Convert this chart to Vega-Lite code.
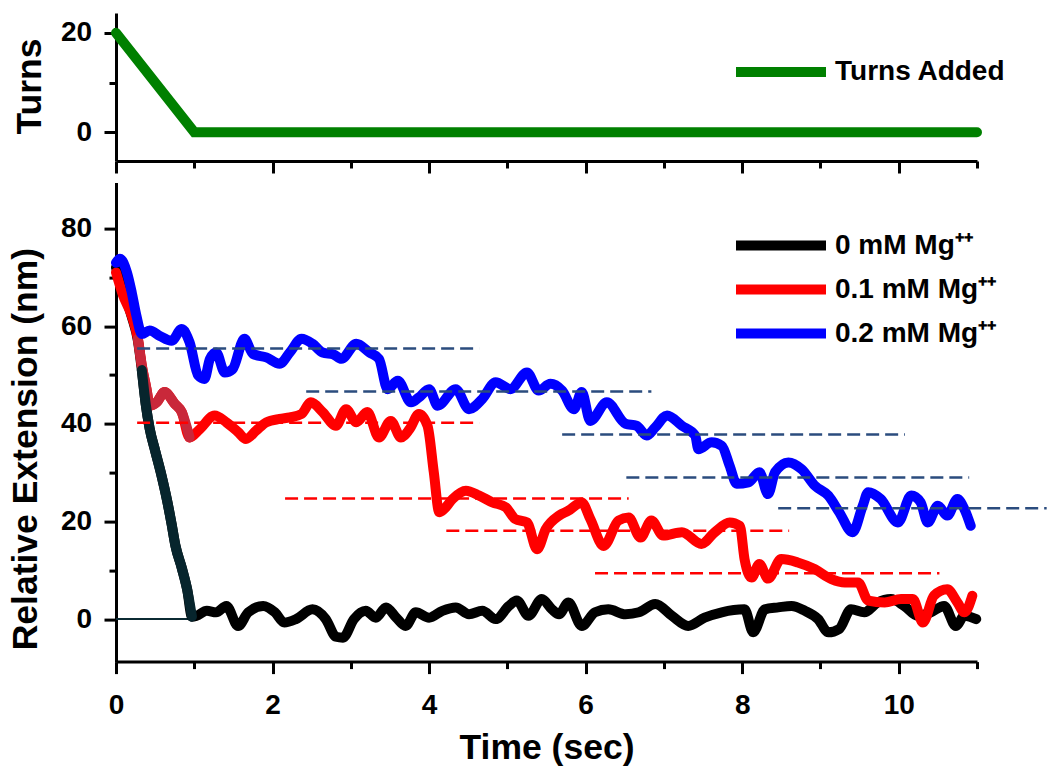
{
  "$schema": "https://vega.github.io/schema/vega-lite/v6.json",
  "background": "white",
  "padding": {"left": 8, "top": 12, "right": 0, "bottom": 0},
  "datasets": {
    "turns": [
      {"t": 0, "turns": 20, "series": "Turns Added"},
      {"t": 1, "turns": 0, "series": "Turns Added"},
      {"t": 11, "turns": 0, "series": "Turns Added"}
    ],
    "ext": [
      {"series": "0 mM Mg⁺⁺", "t": 0, "y": 72},
      {"series": "0 mM Mg⁺⁺", "t": 0.1, "y": 67},
      {"series": "0 mM Mg⁺⁺", "t": 0.2, "y": 62},
      {"series": "0 mM Mg⁺⁺", "t": 0.28, "y": 57},
      {"series": "0 mM Mg⁺⁺", "t": 0.33, "y": 51},
      {"series": "0 mM Mg⁺⁺", "t": 0.38, "y": 44},
      {"series": "0 mM Mg⁺⁺", "t": 0.43, "y": 39},
      {"series": "0 mM Mg⁺⁺", "t": 0.5, "y": 34.5},
      {"series": "0 mM Mg⁺⁺", "t": 0.58, "y": 29.5},
      {"series": "0 mM Mg⁺⁺", "t": 0.65, "y": 24.5},
      {"series": "0 mM Mg⁺⁺", "t": 0.71, "y": 19.5},
      {"series": "0 mM Mg⁺⁺", "t": 0.76, "y": 15},
      {"series": "0 mM Mg⁺⁺", "t": 0.84, "y": 10.5},
      {"series": "0 mM Mg⁺⁺", "t": 0.91, "y": 6},
      {"series": "0 mM Mg⁺⁺", "t": 0.97, "y": 0.5},
      {"series": "0 mM Mg⁺⁺", "t": 1.03, "y": 0.7},
      {"series": "0 mM Mg⁺⁺", "t": 1.16, "y": 1.7},
      {"series": "0 mM Mg⁺⁺", "t": 1.28, "y": 1.4},
      {"series": "0 mM Mg⁺⁺", "t": 1.41, "y": 2.7},
      {"series": "0 mM Mg⁺⁺", "t": 1.56, "y": -1.4},
      {"series": "0 mM Mg⁺⁺", "t": 1.69, "y": 1.4},
      {"series": "0 mM Mg⁺⁺", "t": 1.88, "y": 2.7},
      {"series": "0 mM Mg⁺⁺", "t": 2.03, "y": 1.4},
      {"series": "0 mM Mg⁺⁺", "t": 2.15, "y": -0.7},
      {"series": "0 mM Mg⁺⁺", "t": 2.3, "y": 0},
      {"series": "0 mM Mg⁺⁺", "t": 2.51, "y": 2.0},
      {"series": "0 mM Mg⁺⁺", "t": 2.68, "y": 0},
      {"series": "0 mM Mg⁺⁺", "t": 2.81, "y": -3.6},
      {"series": "0 mM Mg⁺⁺", "t": 2.9, "y": -3.8},
      {"series": "0 mM Mg⁺⁺", "t": 3.04, "y": 0},
      {"series": "0 mM Mg⁺⁺", "t": 3.19, "y": 1.7},
      {"series": "0 mM Mg⁺⁺", "t": 3.32, "y": 0.3},
      {"series": "0 mM Mg⁺⁺", "t": 3.45, "y": 2.4},
      {"series": "0 mM Mg⁺⁺", "t": 3.58, "y": 0.3},
      {"series": "0 mM Mg⁺⁺", "t": 3.7, "y": -1.4},
      {"series": "0 mM Mg⁺⁺", "t": 3.83, "y": 1.4},
      {"series": "0 mM Mg⁺⁺", "t": 4.0, "y": 0.3},
      {"series": "0 mM Mg⁺⁺", "t": 4.17, "y": 1.7},
      {"series": "0 mM Mg⁺⁺", "t": 4.34, "y": 2.4},
      {"series": "0 mM Mg⁺⁺", "t": 4.51, "y": 1.0},
      {"series": "0 mM Mg⁺⁺", "t": 4.68, "y": 1.7},
      {"series": "0 mM Mg⁺⁺", "t": 4.85, "y": 0},
      {"series": "0 mM Mg⁺⁺", "t": 5.02, "y": 2.7},
      {"series": "0 mM Mg⁺⁺", "t": 5.12, "y": 3.8},
      {"series": "0 mM Mg⁺⁺", "t": 5.27, "y": 0.7},
      {"series": "0 mM Mg⁺⁺", "t": 5.44, "y": 4.1},
      {"series": "0 mM Mg⁺⁺", "t": 5.57, "y": 2.0},
      {"series": "0 mM Mg⁺⁺", "t": 5.66, "y": 1.0},
      {"series": "0 mM Mg⁺⁺", "t": 5.78, "y": 3.4},
      {"series": "0 mM Mg⁺⁺", "t": 5.95, "y": -1.4},
      {"series": "0 mM Mg⁺⁺", "t": 6.12, "y": 1.4},
      {"series": "0 mM Mg⁺⁺", "t": 6.29, "y": 2.0},
      {"series": "0 mM Mg⁺⁺", "t": 6.51, "y": 1.0},
      {"series": "0 mM Mg⁺⁺", "t": 6.68, "y": 1.4},
      {"series": "0 mM Mg⁺⁺", "t": 6.89, "y": 3.1},
      {"series": "0 mM Mg⁺⁺", "t": 7.1, "y": 0.7},
      {"series": "0 mM Mg⁺⁺", "t": 7.31, "y": -1.4},
      {"series": "0 mM Mg⁺⁺", "t": 7.52, "y": 0.3},
      {"series": "0 mM Mg⁺⁺", "t": 7.74, "y": 1.4},
      {"series": "0 mM Mg⁺⁺", "t": 8.03, "y": 2.0},
      {"series": "0 mM Mg⁺⁺", "t": 8.14, "y": -2.7},
      {"series": "0 mM Mg⁺⁺", "t": 8.29, "y": 2.0},
      {"series": "0 mM Mg⁺⁺", "t": 8.46, "y": 2.4},
      {"series": "0 mM Mg⁺⁺", "t": 8.63, "y": 2.7},
      {"series": "0 mM Mg⁺⁺", "t": 8.8, "y": 1.7},
      {"series": "0 mM Mg⁺⁺", "t": 8.97, "y": 0},
      {"series": "0 mM Mg⁺⁺", "t": 9.1, "y": -2.7},
      {"series": "0 mM Mg⁺⁺", "t": 9.24, "y": -2.0},
      {"series": "0 mM Mg⁺⁺", "t": 9.39, "y": 2.0},
      {"series": "0 mM Mg⁺⁺", "t": 9.56, "y": 1.4},
      {"series": "0 mM Mg⁺⁺", "t": 9.73, "y": 3.4},
      {"series": "0 mM Mg⁺⁺", "t": 9.9, "y": 4.1},
      {"series": "0 mM Mg⁺⁺", "t": 10.07, "y": 2.7},
      {"series": "0 mM Mg⁺⁺", "t": 10.24, "y": 0.7},
      {"series": "0 mM Mg⁺⁺", "t": 10.41, "y": 1.4},
      {"series": "0 mM Mg⁺⁺", "t": 10.58, "y": 2.7},
      {"series": "0 mM Mg⁺⁺", "t": 10.73, "y": -1.4},
      {"series": "0 mM Mg⁺⁺", "t": 10.84, "y": 0.7},
      {"series": "0 mM Mg⁺⁺", "t": 10.99, "y": 0},
      {"series": "0.1 mM Mg⁺⁺", "t": 0, "y": 71},
      {"series": "0.1 mM Mg⁺⁺", "t": 0.09, "y": 66.3},
      {"series": "0.1 mM Mg⁺⁺", "t": 0.2, "y": 62.2},
      {"series": "0.1 mM Mg⁺⁺", "t": 0.28, "y": 57.4},
      {"series": "0.1 mM Mg⁺⁺", "t": 0.33, "y": 51.9},
      {"series": "0.1 mM Mg⁺⁺", "t": 0.39, "y": 47.1},
      {"series": "0.1 mM Mg⁺⁺", "t": 0.43, "y": 43.7},
      {"series": "0.1 mM Mg⁺⁺", "t": 0.52, "y": 44.4},
      {"series": "0.1 mM Mg⁺⁺", "t": 0.62, "y": 46.5},
      {"series": "0.1 mM Mg⁺⁺", "t": 0.75, "y": 44.1},
      {"series": "0.1 mM Mg⁺⁺", "t": 0.84, "y": 42.4},
      {"series": "0.1 mM Mg⁺⁺", "t": 0.94, "y": 37.2},
      {"series": "0.1 mM Mg⁺⁺", "t": 1.07, "y": 38.9},
      {"series": "0.1 mM Mg⁺⁺", "t": 1.26, "y": 41.7},
      {"series": "0.1 mM Mg⁺⁺", "t": 1.41, "y": 40.3},
      {"series": "0.1 mM Mg⁺⁺", "t": 1.56, "y": 38.3},
      {"series": "0.1 mM Mg⁺⁺", "t": 1.66, "y": 36.9},
      {"series": "0.1 mM Mg⁺⁺", "t": 1.79, "y": 38.6},
      {"series": "0.1 mM Mg⁺⁺", "t": 1.92, "y": 40.3},
      {"series": "0.1 mM Mg⁺⁺", "t": 2.09, "y": 41.0},
      {"series": "0.1 mM Mg⁺⁺", "t": 2.22, "y": 41.3},
      {"series": "0.1 mM Mg⁺⁺", "t": 2.37, "y": 42.0},
      {"series": "0.1 mM Mg⁺⁺", "t": 2.49, "y": 44.4},
      {"series": "0.1 mM Mg⁺⁺", "t": 2.64, "y": 42.4},
      {"series": "0.1 mM Mg⁺⁺", "t": 2.81, "y": 39.6},
      {"series": "0.1 mM Mg⁺⁺", "t": 2.94, "y": 43.0},
      {"series": "0.1 mM Mg⁺⁺", "t": 3.07, "y": 40.3},
      {"series": "0.1 mM Mg⁺⁺", "t": 3.21, "y": 42.4},
      {"series": "0.1 mM Mg⁺⁺", "t": 3.36, "y": 37.2},
      {"series": "0.1 mM Mg⁺⁺", "t": 3.51, "y": 40.6},
      {"series": "0.1 mM Mg⁺⁺", "t": 3.64, "y": 37.2},
      {"series": "0.1 mM Mg⁺⁺", "t": 3.75, "y": 38.9},
      {"series": "0.1 mM Mg⁺⁺", "t": 3.87, "y": 42.0},
      {"series": "0.1 mM Mg⁺⁺", "t": 3.98, "y": 39.6},
      {"series": "0.1 mM Mg⁺⁺", "t": 4.06, "y": 30.1},
      {"series": "0.1 mM Mg⁺⁺", "t": 4.13, "y": 21.9},
      {"series": "0.1 mM Mg⁺⁺", "t": 4.19, "y": 22.5},
      {"series": "0.1 mM Mg⁺⁺", "t": 4.3, "y": 24.6},
      {"series": "0.1 mM Mg⁺⁺", "t": 4.47, "y": 26.3},
      {"series": "0.1 mM Mg⁺⁺", "t": 4.64, "y": 25.3},
      {"series": "0.1 mM Mg⁺⁺", "t": 4.81, "y": 23.9},
      {"series": "0.1 mM Mg⁺⁺", "t": 4.98, "y": 22.9},
      {"series": "0.1 mM Mg⁺⁺", "t": 5.1, "y": 20.5},
      {"series": "0.1 mM Mg⁺⁺", "t": 5.25, "y": 19.8},
      {"series": "0.1 mM Mg⁺⁺", "t": 5.38, "y": 14.3},
      {"series": "0.1 mM Mg⁺⁺", "t": 5.49, "y": 18.4},
      {"series": "0.1 mM Mg⁺⁺", "t": 5.66, "y": 21.2},
      {"series": "0.1 mM Mg⁺⁺", "t": 5.78, "y": 22.2},
      {"series": "0.1 mM Mg⁺⁺", "t": 5.95, "y": 23.9},
      {"series": "0.1 mM Mg⁺⁺", "t": 6.06, "y": 20.5},
      {"series": "0.1 mM Mg⁺⁺", "t": 6.23, "y": 15.0},
      {"series": "0.1 mM Mg⁺⁺", "t": 6.42, "y": 20.2},
      {"series": "0.1 mM Mg⁺⁺", "t": 6.55, "y": 20.8},
      {"series": "0.1 mM Mg⁺⁺", "t": 6.7, "y": 16.7},
      {"series": "0.1 mM Mg⁺⁺", "t": 6.84, "y": 20.2},
      {"series": "0.1 mM Mg⁺⁺", "t": 6.99, "y": 17.1},
      {"series": "0.1 mM Mg⁺⁺", "t": 7.23, "y": 17.8},
      {"series": "0.1 mM Mg⁺⁺", "t": 7.48, "y": 15.4},
      {"series": "0.1 mM Mg⁺⁺", "t": 7.65, "y": 17.8},
      {"series": "0.1 mM Mg⁺⁺", "t": 7.84, "y": 19.8},
      {"series": "0.1 mM Mg⁺⁺", "t": 7.97, "y": 19.1},
      {"series": "0.1 mM Mg⁺⁺", "t": 8.03, "y": 12.3},
      {"series": "0.1 mM Mg⁺⁺", "t": 8.12, "y": 8.5},
      {"series": "0.1 mM Mg⁺⁺", "t": 8.22, "y": 11.3},
      {"series": "0.1 mM Mg⁺⁺", "t": 8.33, "y": 8.3},
      {"series": "0.1 mM Mg⁺⁺", "t": 8.5, "y": 12.3},
      {"series": "0.1 mM Mg⁺⁺", "t": 8.71, "y": 11.6},
      {"series": "0.1 mM Mg⁺⁺", "t": 8.93, "y": 10.2},
      {"series": "0.1 mM Mg⁺⁺", "t": 9.14, "y": 8.2},
      {"series": "0.1 mM Mg⁺⁺", "t": 9.31, "y": 7.5},
      {"series": "0.1 mM Mg⁺⁺", "t": 9.48, "y": 7.5},
      {"series": "0.1 mM Mg⁺⁺", "t": 9.61, "y": 3.8},
      {"series": "0.1 mM Mg⁺⁺", "t": 9.82, "y": 3.4},
      {"series": "0.1 mM Mg⁺⁺", "t": 10.03, "y": 4.1},
      {"series": "0.1 mM Mg⁺⁺", "t": 10.18, "y": 4.1},
      {"series": "0.1 mM Mg⁺⁺", "t": 10.31, "y": -0.7},
      {"series": "0.1 mM Mg⁺⁺", "t": 10.45, "y": 4.8},
      {"series": "0.1 mM Mg⁺⁺", "t": 10.62, "y": 6.1},
      {"series": "0.1 mM Mg⁺⁺", "t": 10.75, "y": 3.4},
      {"series": "0.1 mM Mg⁺⁺", "t": 10.84, "y": 1.4},
      {"series": "0.1 mM Mg⁺⁺", "t": 10.94, "y": 4.8},
      {"series": "0.2 mM Mg⁺⁺", "t": 0, "y": 73},
      {"series": "0.2 mM Mg⁺⁺", "t": 0.05, "y": 73.8},
      {"series": "0.2 mM Mg⁺⁺", "t": 0.14, "y": 71},
      {"series": "0.2 mM Mg⁺⁺", "t": 0.2, "y": 67},
      {"series": "0.2 mM Mg⁺⁺", "t": 0.26, "y": 62.2},
      {"series": "0.2 mM Mg⁺⁺", "t": 0.33, "y": 58.4},
      {"series": "0.2 mM Mg⁺⁺", "t": 0.43, "y": 59.1},
      {"series": "0.2 mM Mg⁺⁺", "t": 0.56, "y": 58},
      {"series": "0.2 mM Mg⁺⁺", "t": 0.71, "y": 57},
      {"series": "0.2 mM Mg⁺⁺", "t": 0.84, "y": 59.4},
      {"series": "0.2 mM Mg⁺⁺", "t": 0.94, "y": 56.7},
      {"series": "0.2 mM Mg⁺⁺", "t": 1.05, "y": 49.9},
      {"series": "0.2 mM Mg⁺⁺", "t": 1.13, "y": 49.2},
      {"series": "0.2 mM Mg⁺⁺", "t": 1.2, "y": 53.3},
      {"series": "0.2 mM Mg⁺⁺", "t": 1.28, "y": 54.6},
      {"series": "0.2 mM Mg⁺⁺", "t": 1.39, "y": 50.5},
      {"series": "0.2 mM Mg⁺⁺", "t": 1.49, "y": 51.2},
      {"series": "0.2 mM Mg⁺⁺", "t": 1.64, "y": 57.4},
      {"series": "0.2 mM Mg⁺⁺", "t": 1.75, "y": 54.3},
      {"series": "0.2 mM Mg⁺⁺", "t": 1.92, "y": 53.6},
      {"series": "0.2 mM Mg⁺⁺", "t": 2.09, "y": 52.3},
      {"series": "0.2 mM Mg⁺⁺", "t": 2.22, "y": 54.6},
      {"series": "0.2 mM Mg⁺⁺", "t": 2.37, "y": 57.4},
      {"series": "0.2 mM Mg⁺⁺", "t": 2.51, "y": 56.4},
      {"series": "0.2 mM Mg⁺⁺", "t": 2.64, "y": 54.6},
      {"series": "0.2 mM Mg⁺⁺", "t": 2.78, "y": 54.2},
      {"series": "0.2 mM Mg⁺⁺", "t": 2.88, "y": 53.3},
      {"series": "0.2 mM Mg⁺⁺", "t": 3.07, "y": 56.4},
      {"series": "0.2 mM Mg⁺⁺", "t": 3.24, "y": 54.6},
      {"series": "0.2 mM Mg⁺⁺", "t": 3.36, "y": 53.3},
      {"series": "0.2 mM Mg⁺⁺", "t": 3.47, "y": 47.1},
      {"series": "0.2 mM Mg⁺⁺", "t": 3.6, "y": 48.8},
      {"series": "0.2 mM Mg⁺⁺", "t": 3.77, "y": 44.4},
      {"series": "0.2 mM Mg⁺⁺", "t": 3.87, "y": 45.4},
      {"series": "0.2 mM Mg⁺⁺", "t": 4.0, "y": 47.1},
      {"series": "0.2 mM Mg⁺⁺", "t": 4.11, "y": 43.7},
      {"series": "0.2 mM Mg⁺⁺", "t": 4.34, "y": 47.1},
      {"series": "0.2 mM Mg⁺⁺", "t": 4.51, "y": 43.0},
      {"series": "0.2 mM Mg⁺⁺", "t": 4.68, "y": 45.1},
      {"series": "0.2 mM Mg⁺⁺", "t": 4.85, "y": 48.5},
      {"series": "0.2 mM Mg⁺⁺", "t": 5.04, "y": 47.1},
      {"series": "0.2 mM Mg⁺⁺", "t": 5.25, "y": 50.5},
      {"series": "0.2 mM Mg⁺⁺", "t": 5.4, "y": 46.8},
      {"series": "0.2 mM Mg⁺⁺", "t": 5.55, "y": 48.2},
      {"series": "0.2 mM Mg⁺⁺", "t": 5.7, "y": 46.8},
      {"series": "0.2 mM Mg⁺⁺", "t": 5.85, "y": 43.0},
      {"series": "0.2 mM Mg⁺⁺", "t": 5.95, "y": 46.5},
      {"series": "0.2 mM Mg⁺⁺", "t": 6.06, "y": 40.6},
      {"series": "0.2 mM Mg⁺⁺", "t": 6.27, "y": 44.4},
      {"series": "0.2 mM Mg⁺⁺", "t": 6.51, "y": 40},
      {"series": "0.2 mM Mg⁺⁺", "t": 6.65, "y": 39.6},
      {"series": "0.2 mM Mg⁺⁺", "t": 6.78, "y": 37.6},
      {"series": "0.2 mM Mg⁺⁺", "t": 6.89, "y": 39.3},
      {"series": "0.2 mM Mg⁺⁺", "t": 7.04, "y": 41.7},
      {"series": "0.2 mM Mg⁺⁺", "t": 7.23, "y": 39.6},
      {"series": "0.2 mM Mg⁺⁺", "t": 7.4, "y": 37.6},
      {"series": "0.2 mM Mg⁺⁺", "t": 7.44, "y": 34.8},
      {"series": "0.2 mM Mg⁺⁺", "t": 7.61, "y": 36.2},
      {"series": "0.2 mM Mg⁺⁺", "t": 7.74, "y": 35.5},
      {"series": "0.2 mM Mg⁺⁺", "t": 7.84, "y": 31.4},
      {"series": "0.2 mM Mg⁺⁺", "t": 7.93, "y": 27.7},
      {"series": "0.2 mM Mg⁺⁺", "t": 8.08, "y": 28.0},
      {"series": "0.2 mM Mg⁺⁺", "t": 8.22, "y": 30.1},
      {"series": "0.2 mM Mg⁺⁺", "t": 8.33, "y": 25.6},
      {"series": "0.2 mM Mg⁺⁺", "t": 8.42, "y": 30.1},
      {"series": "0.2 mM Mg⁺⁺", "t": 8.59, "y": 32.1},
      {"series": "0.2 mM Mg⁺⁺", "t": 8.76, "y": 30.7},
      {"series": "0.2 mM Mg⁺⁺", "t": 8.93, "y": 27.3},
      {"series": "0.2 mM Mg⁺⁺", "t": 9.1, "y": 25.3},
      {"series": "0.2 mM Mg⁺⁺", "t": 9.24, "y": 21.9},
      {"series": "0.2 mM Mg⁺⁺", "t": 9.41, "y": 17.8},
      {"series": "0.2 mM Mg⁺⁺", "t": 9.54, "y": 23.2},
      {"series": "0.2 mM Mg⁺⁺", "t": 9.61, "y": 26.0},
      {"series": "0.2 mM Mg⁺⁺", "t": 9.77, "y": 24.6},
      {"series": "0.2 mM Mg⁺⁺", "t": 9.99, "y": 19.8},
      {"series": "0.2 mM Mg⁺⁺", "t": 10.16, "y": 25.3},
      {"series": "0.2 mM Mg⁺⁺", "t": 10.28, "y": 23.9},
      {"series": "0.2 mM Mg⁺⁺", "t": 10.37, "y": 19.8},
      {"series": "0.2 mM Mg⁺⁺", "t": 10.5, "y": 23.2},
      {"series": "0.2 mM Mg⁺⁺", "t": 10.62, "y": 21.2},
      {"series": "0.2 mM Mg⁺⁺", "t": 10.75, "y": 24.6},
      {"series": "0.2 mM Mg⁺⁺", "t": 10.84, "y": 22.5},
      {"series": "0.2 mM Mg⁺⁺", "t": 10.92, "y": 19.1}
    ],
    "levels": [
      {"grp": "0.2", "y": 55.4, "t": 0.27, "t2": 4.64},
      {"grp": "0.2", "y": 46.6, "t": 2.43, "t2": 6.84},
      {"grp": "0.2", "y": 37.8, "t": 5.7, "t2": 10.08},
      {"grp": "0.2", "y": 29.0, "t": 6.52, "t2": 10.9},
      {"grp": "0.2", "y": 22.7, "t": 8.46, "t2": 11.89},
      {"grp": "0.1", "y": 40.2, "t": 0.27, "t2": 4.64},
      {"grp": "0.1", "y": 24.7, "t": 2.16, "t2": 6.55},
      {"grp": "0.1", "y": 18.1, "t": 4.22, "t2": 8.6},
      {"grp": "0.1", "y": 9.4, "t": 6.12, "t2": 10.52}
    ],
    "baseline": [
      {"t": 0, "t2": 1, "y": 0}
    ]
  },
  "spacing": 21.6,
  "bounds": "flush",
  "resolve": {"scale": {"color": "independent"}},
  "vconcat": [
    {
      "width": 861,
      "height": 148,
      "data": {"name": "turns"},
      "mark": {"type": "line", "strokeWidth": 10, "clip": false, "strokeCap": "round"},
      "encoding": {
        "x": {
          "field": "t", "type": "quantitative",
          "scale": {"domain": [0, 11], "nice": false, "zero": false},
          "axis": {
            "title": null, "labels": false,
            "values": [0, 1, 2, 3, 4, 5, 6, 7, 8, 9, 10, 11],
            "tickSize": {"condition": {"test": "datum.value % 2 === 0", "value": 12}, "value": 7}
          }
        },
        "y": {
          "field": "turns", "type": "quantitative",
          "scale": {"domain": [-5.8, 24], "nice": false, "zero": false},
          "axis": {
            "title": "Turns",
            "values": [0, 10, 20],
            "labelExpr": "datum.value % 20 === 0 ? datum.label : ''",
            "tickSize": {"condition": {"test": "datum.value % 20 === 0", "value": 12}, "value": 7},
            "labelPadding": 12.4,
            "titleX": -75.7, "titleY": 73, "titleBaseline": "alphabetic"
          }
        },
        "color": {
          "field": "series", "type": "nominal",
          "scale": {"domain": ["Turns Added"], "range": ["#008000"]},
          "legend": {
            "title": null, "orient": "none", "legendX": 606, "legendY": 45,
            "symbolType": "M0,0H18", "symbolSize": 100, "symbolStrokeWidth": 10,
            "labelOffset": 85, "labelFontSize": 28, "labelFontWeight": "bold", "labelColor": "black", "labelLimit": 400
          }
        }
      }
    },
    {
      "width": 861,
      "height": 479,
      "encoding": {
        "x": {
          "field": "t", "type": "quantitative",
          "scale": {"domain": [0, 11], "nice": false, "zero": false},
          "axis": {
            "title": "Time (sec)",
            "values": [0, 1, 2, 3, 4, 5, 6, 7, 8, 9, 10, 11],
            "labelExpr": "datum.value % 2 === 0 ? datum.label : ''",
            "labelFlush": false,
            "tickSize": {"condition": {"test": "datum.value % 2 === 0", "value": 12}, "value": 7},
            "labelBaseline": "alphabetic", "labelPadding": 39.5,
            "titleY": 96.7, "titleBaseline": "alphabetic"
          }
        },
        "y": {
          "field": "y", "type": "quantitative",
          "scale": {"domain": [-8.7, 89.4], "nice": false, "zero": false},
          "axis": {
            "title": "Relative Extension (nm)",
            "values": [0, 10, 20, 30, 40, 50, 60, 70, 80],
            "labelExpr": "datum.value % 20 === 0 ? datum.label : ''",
            "tickSize": {"condition": {"test": "datum.value % 20 === 0", "value": 12}, "value": 7},
            "labelPadding": 12.4,
            "titleX": -79.5, "titleY": 266, "titleBaseline": "alphabetic"
          }
        }
      },
      "layer": [
        {
          "data": {"name": "baseline"},
          "mark": {"type": "rule", "color": "#0b2a33", "strokeWidth": 2},
          "encoding": {"x2": {"field": "t2"}}
        },
        {
          "data": {"name": "ext"},
          "transform": [{"filter": "datum.series !== '0.2 mM Mg⁺⁺'"}],
          "mark": {"type": "line", "strokeWidth": 10, "clip": false, "interpolate": "monotone", "strokeJoin": "round", "strokeCap": "round"},
          "encoding": {
            "color": {
              "field": "series", "type": "nominal",
              "scale": {"domain": ["0 mM Mg⁺⁺", "0.1 mM Mg⁺⁺", "0.2 mM Mg⁺⁺"], "range": ["#000000", "#ff0000", "#0000ff"]},
              "legend": {
                "title": null, "orient": "none", "legendX": 606, "legendY": 49,
                "symbolType": "M0,0H18", "symbolSize": 100, "symbolStrokeWidth": 10,
                "labelOffset": 85, "labelFontSize": 28, "labelFontWeight": "bold", "labelColor": "black", "labelLimit": 400,
                "rowPadding": 4
              }
            }
          }
        },
        {
          "data": {"name": "ext"},
          "transform": [{"filter": "datum.series === '0.1 mM Mg⁺⁺' && datum.t >= 0.28 && datum.t <= 0.95"}],
          "mark": {"type": "line", "strokeWidth": 10, "color": "#c9283a", "interpolate": "monotone", "strokeJoin": "round", "strokeCap": "round"}
        },
        {
          "data": {"name": "ext"},
          "transform": [{"filter": "datum.series === '0 mM Mg⁺⁺' && datum.t >= 0.3 && datum.t <= 1.0"}],
          "mark": {"type": "line", "strokeWidth": 10, "color": "#07252d", "interpolate": "monotone", "strokeJoin": "round", "strokeCap": "round"}
        },
        {
          "data": {"name": "ext"},
          "transform": [{"filter": "datum.series === '0.2 mM Mg⁺⁺'"}],
          "mark": {"type": "line", "strokeWidth": 10, "clip": false, "interpolate": "monotone", "strokeJoin": "round", "strokeCap": "round"},
          "encoding": {
            "color": {"field": "series", "type": "nominal"}
          }
        },
        {
          "data": {"name": "levels"},
          "transform": [{"filter": "datum.grp === '0.1'"}],
          "mark": {"type": "rule", "color": "#ff0000", "strokeWidth": 2.5, "strokeDash": [13, 6]},
          "encoding": {"x2": {"field": "t2"}}
        },
        {
          "data": {"name": "levels"},
          "transform": [{"filter": "datum.grp === '0.2'"}],
          "mark": {"type": "rule", "color": "#2b4c7e", "strokeWidth": 2.5, "strokeDash": [13, 6], "clip": false},
          "encoding": {"x2": {"field": "t2"}}
        }
      ]
    }
  ],
  "config": {
    "font": "Liberation Sans",
    "view": {"stroke": null},
    "axis": {
      "grid": false,
      "domainColor": "#000000", "domainWidth": 3,
      "tickColor": "#000000", "tickWidth": 3,
      "labelFont": "Liberation Sans", "labelFontSize": 28, "labelFontWeight": "bold", "labelColor": "#000000",
      "titleFont": "Liberation Sans", "titleFontSize": 35.5, "titleFontWeight": "bold", "titleColor": "#000000"
    },
    "legend": {"labelFont": "Liberation Sans"}
  }
}
